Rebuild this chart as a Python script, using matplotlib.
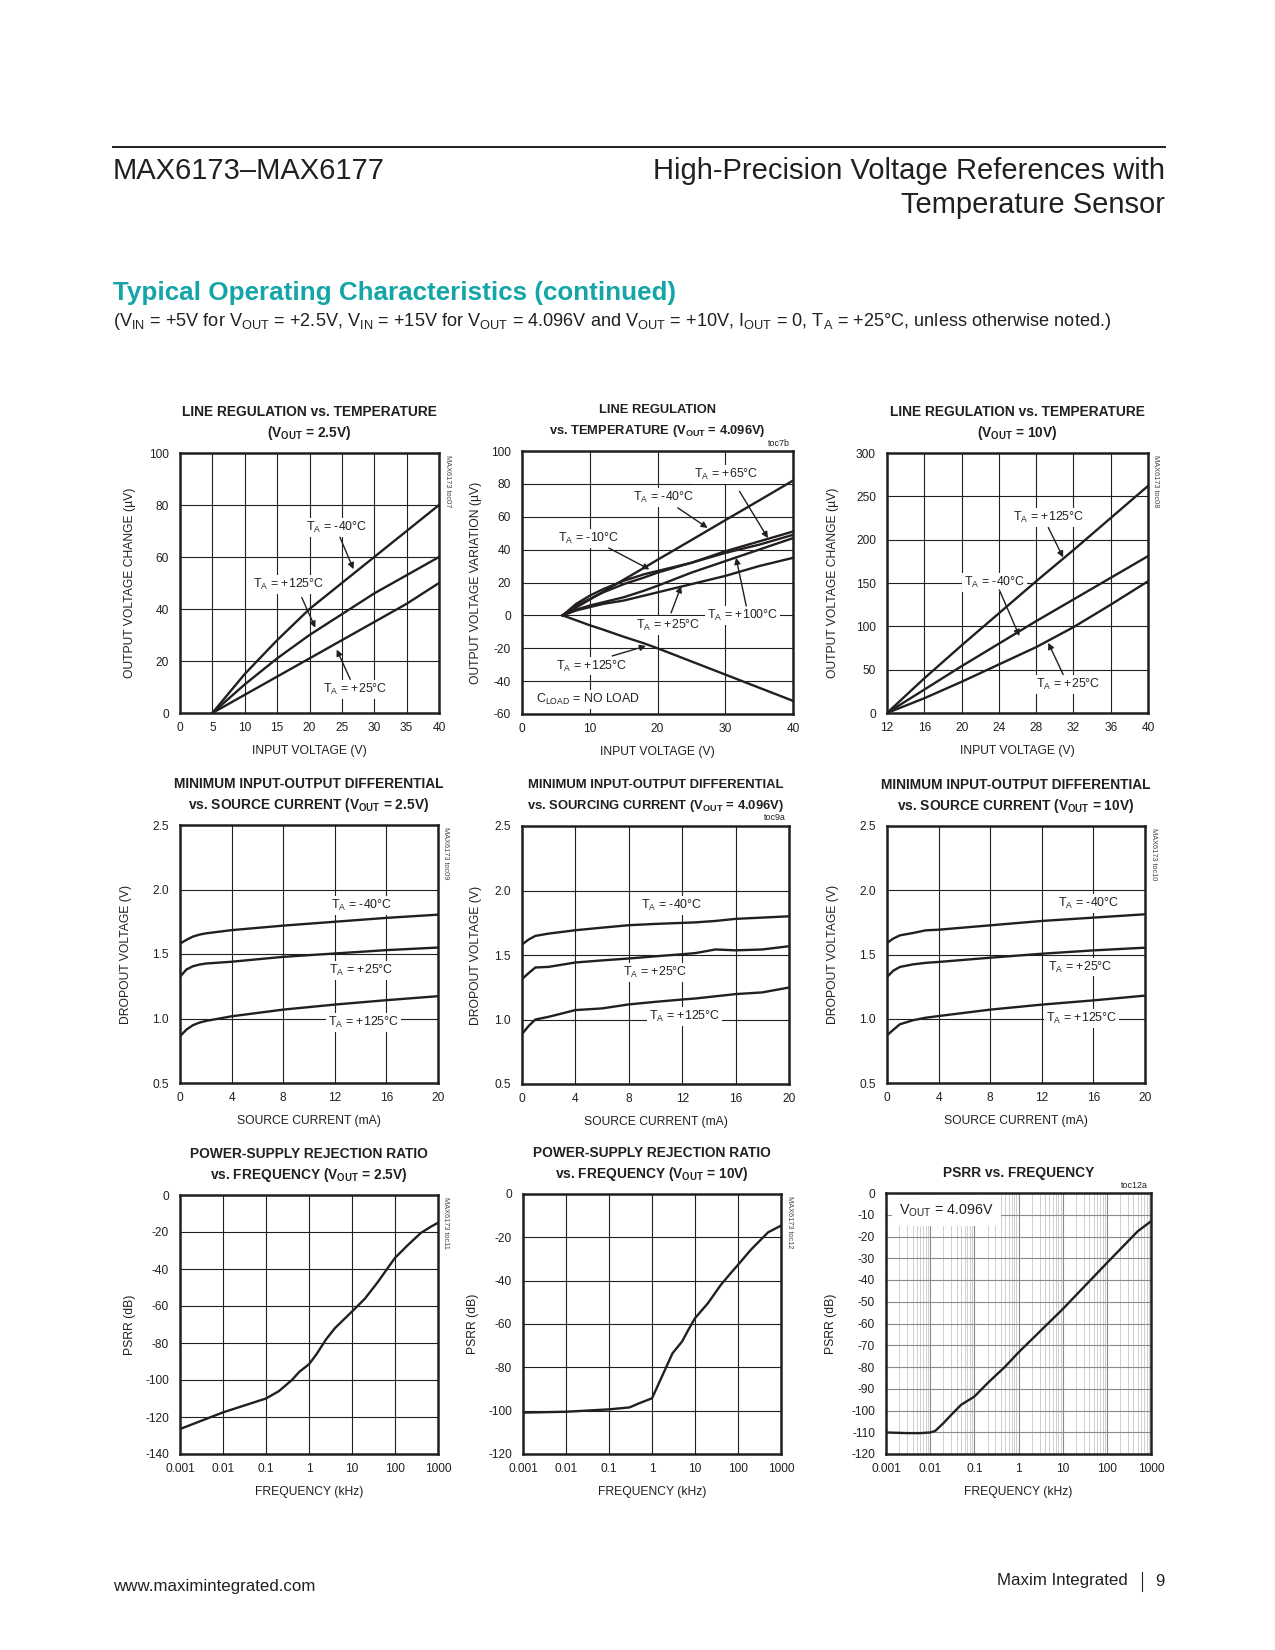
import matplotlib
matplotlib.use('Agg')
import matplotlib.pyplot as plt

W, H = 1275, 1650

# ---- data ----
# line regulation, VOUT = 2.5V
vin_25 = [5, 10, 15, 20, 25, 30, 35, 40]
lr25_m40 = [0, 15, 28, 40, 50, 60, 70, 80]
lr25_p125 = [0, 11, 21, 30, 38, 46, 53, 60]
lr25_p25 = [0, 7, 14, 21, 28, 35, 42, 50]

# line regulation, VOUT = 4.096V
vin_4 = [6, 8, 10, 12, 15, 18, 20, 25, 30, 35, 40]
lr4_m40 = [0, 4.8, 9.6, 14.5, 21.7, 28.9, 33.8, 45.8, 57.9, 69.9, 82]
lr4_m10 = [0, 7, 12, 16, 21, 25, 27, 32, 38, 43, 49]
lr4_p65 = [0, 6, 10, 14, 19, 23, 26, 32, 39, 45, 51]
lr4_p25 = [0, 3, 5, 7, 9, 12, 14, 19, 24, 30, 35]
lr4_p100 = [0, 3.5, 6, 8, 11, 15, 18, 26, 33, 40, 47]
lr4_p125 = [0, -3, -6, -8.7, -13, -17, -20, -28, -36, -44, -52]

# line regulation, VOUT = 10V
vin_10 = [12, 16, 20, 24, 28, 32, 36, 40]
lr10_p125 = [0, 40, 78, 115, 152, 188, 225, 262]
lr10_m40 = [0, 27, 54, 80, 106, 131, 156, 181]
lr10_p25 = [0, 17, 36, 56, 76, 99, 125, 152]

# dropout, VOUT = 2.5V
isrc_25 = [0, 0.5, 1, 1.5, 2, 4, 8, 12, 16, 20]
do25_m40 = [1.58, 1.61, 1.635, 1.65, 1.66, 1.685, 1.72, 1.75, 1.78, 1.805]
do25_p25 = [1.323, 1.38, 1.405, 1.418, 1.426, 1.44, 1.478, 1.504, 1.53, 1.55]
do25_p125 = [0.862, 0.914, 0.948, 0.968, 0.981, 1.017, 1.069, 1.108, 1.142, 1.173]

# dropout, VOUT = 4.096V
isrc_4 = [0, 0.5, 1, 2, 4, 6, 8, 10, 12, 13, 14.5, 16, 18, 20]
do4_m40 = [1.581, 1.62, 1.648, 1.666, 1.692, 1.712, 1.731, 1.741, 1.749, 1.753, 1.764, 1.78, 1.79, 1.80]
do4_p25 = [1.313, 1.36, 1.403, 1.408, 1.442, 1.458, 1.473, 1.49, 1.506, 1.515, 1.543, 1.536, 1.543, 1.568]
do4_p125 = [0.887, 0.95, 1.0, 1.021, 1.073, 1.086, 1.117, 1.137, 1.155, 1.163, 1.18, 1.197, 1.21, 1.248]

# dropout, VOUT = 10V
isrc_10 = [0, 0.5, 1, 2, 3, 4, 8, 12, 16, 20]
do10_m40 = [1.59, 1.625, 1.649, 1.667, 1.688, 1.693, 1.727, 1.761, 1.787, 1.813]
do10_p25 = [1.325, 1.375, 1.403, 1.423, 1.435, 1.442, 1.475, 1.506, 1.532, 1.553]
do10_p125 = [0.871, 0.915, 0.957, 0.988, 1.008, 1.021, 1.071, 1.11, 1.143, 1.18]

# PSRR, VOUT = 2.5V
f_25 = [0.001, 0.01, 0.1, 0.2, 0.4, 0.6, 1, 1.5, 2.5, 4, 6, 10, 20, 40, 70, 100, 200, 400, 700, 1000]
psrr_25 = [-126.5, -117.5, -110, -106, -100, -95.5, -91.5, -86, -78, -72, -68, -63, -56, -47, -39, -34, -27, -20.5, -17, -15]

# PSRR, VOUT = 10V
f_10 = [0.001, 0.01, 0.1, 0.3, 0.5, 1, 2, 3, 5, 7, 10, 20, 40, 70, 100, 200, 500, 1000]
psrr_10 = [-100.9, -100.5, -99.4, -98.5, -96.6, -94.3, -81.2, -73.5, -68.1, -62.7, -57.3, -50.4, -41.9, -36.2, -32.7, -25.7, -17.7, -14.6]

# PSRR, VOUT = 4.096V
f_4 = [0.001, 0.003, 0.006, 0.01, 0.013, 0.02, 0.03, 0.05, 0.1, 0.2, 0.5, 1, 10, 100, 500, 1000]
psrr_4 = [-110.1, -110.4, -110.4, -110.1, -109.4, -105.8, -102, -97.4, -93.6, -87.4, -79.8, -73.3, -53.4, -32.2, -17.6, -13]

freq_ticks = [0.001, 0.01, 0.1, 1, 10, 100, 1000]
freq_labels = ['0.001', '0.01', '0.1', '1', '10', '100', '1000']

# ---- fonts ----
FAM = 'Liberation Sans'
plt.rcParams['font.family'] = [FAM, 'DejaVu Sans']
plt.rcParams['mathtext.fontset'] = 'custom'
plt.rcParams['mathtext.rm'] = FAM
plt.rcParams['mathtext.it'] = FAM + ':italic'
plt.rcParams['mathtext.bf'] = FAM + ':bold'
plt.rcParams['axes.unicode_minus'] = False

INK = '#231f20'
TICK = 8.6
LAB = 8.7
TIT = 9.9
ANN = 8.9

fig = plt.figure(figsize=(W / 100, H / 100), dpi=100)


def px(x, y):
    return x / W, 1 - y / H


def add_ax(l, t, r, b):
    return fig.add_axes([l / W, 1 - b / H, (r - l) / W, (b - t) / H])


def style(ax, title, xlabel, ylabel, ylab_off=50, side=None, toc=None, tsize=TIT):
    for s in ax.spines.values():
        s.set_linewidth(1.8)
        s.set_color(INK)
    ax.tick_params(length=0, labelsize=TICK, colors=INK)
    ax.tick_params(axis='x', pad=6.5)
    ax.tick_params(axis='y', pad=8)
    ax.grid(True, color=INK, lw=0.8)
    ax.set_axisbelow(True)
    if isinstance(title, str):
        title = [title]
    offs = [21] if len(title) == 1 else [42, 21]
    for line, o in zip(title, offs):
        ax.annotate(line, (0.5, 1), xycoords='axes fraction', xytext=(0, o - 1),
                    textcoords='offset pixels', ha='center', va='center',
                    fontsize=tsize, fontweight='bold', color=INK)
    ax.annotate(xlabel, (0.5, 0), xycoords='axes fraction', xytext=(0, -38),
                textcoords='offset pixels', ha='center', va='center',
                fontsize=LAB, color=INK)
    ax.annotate(ylabel, (0, 0.5), xycoords='axes fraction', xytext=(-ylab_off, 0),
                textcoords='offset pixels', ha='center', va='center',
                rotation=90, fontsize=LAB, color=INK)
    if side:
        ax.annotate(side, (1, 1), xycoords='axes fraction', xytext=(8, -2),
                    textcoords='offset pixels', ha='center', va='top',
                    rotation=270, fontsize=5.3, color='#444444')
    if toc:
        ax.annotate(toc, (1, 1), xycoords='axes fraction', xytext=(-3, 8),
                    textcoords='offset pixels', ha='right', va='center',
                    fontsize=6.4, color=INK)


def lbl(ax, s, xy, arrow=None):
    ax.text(xy[0], xy[1], s, ha='center', va='center', fontsize=ANN, color=INK,
            zorder=3, bbox=dict(boxstyle='square,pad=0.15', fc='white', ec='none'))
    if arrow:
        ax.annotate('', xy=arrow[1], xytext=arrow[0], zorder=5,
                    arrowprops=dict(arrowstyle='-|>', color=INK, lw=1.0,
                                    mutation_scale=9, shrinkA=0, shrinkB=0))


def TA(t):
    return r'T$_{\rm A}$ = ' + t + '°C'


LW = 1.7

# ---- header ----
fig.add_artist(plt.Line2D([113 / W, 1165 / W], [1 - 146.5 / H] * 2, color=INK, lw=1.4))
fig.text(*px(113, 171), 'MAX6173–MAX6177', fontsize=21, color=INK, ha='left', va='center')
fig.text(*px(1165, 171), 'High-Precision Voltage References with', fontsize=21,
         color=INK, ha='right', va='center')
fig.text(*px(1165, 205), 'Temperature Sensor', fontsize=21, color=INK, ha='right', va='center')
fig.text(*px(113, 293), 'Typical Operating Characteristics (continued)', fontsize=18.7,
         fontweight='bold', color='#14a5a8', ha='left', va='center')
fig.text(*px(113, 321),
         r'(V$_{\rm IN}$ = +5V for V$_{\rm OUT}$ = +2.5V, V$_{\rm IN}$ = +15V for V$_{\rm OUT}$'
         r' = 4.096V and V$_{\rm OUT}$ = +10V, I$_{\rm OUT}$ = 0, T$_{\rm A}$ = +25°C, unless otherwise noted.)',
         fontsize=13.1, color=INK, ha='left', va='center')

# ---- footer ----
fig.text(*px(113, 1586), 'www.maximintegrated.com', fontsize=12.2, color=INK, ha='left', va='center')
fig.text(*px(1128, 1581), 'Maxim Integrated', fontsize=12.2, color=INK, ha='right', va='center')
fig.add_artist(plt.Line2D([1141.5 / W] * 2, [1 - 1572 / H, 1 - 1591 / H], color=INK, lw=0.8))
fig.text(*px(1165, 1581), '9', fontsize=12.2, color=INK, ha='right', va='center')

# ---- chart 1: line regulation 2.5V ----
ax = add_ax(180, 453, 439, 713)
ax.plot(vin_25, lr25_m40, color=INK, lw=LW, zorder=4)
ax.plot(vin_25, lr25_p125, color=INK, lw=LW, zorder=4)
ax.plot(vin_25, lr25_p25, color=INK, lw=LW, zorder=4)
ax.set_xlim(0, 40)
ax.set_ylim(0, 100)
ax.set_xticks(range(0, 41, 5))
ax.set_yticks(range(0, 101, 20))
style(ax, ['LINE REGULATION vs. TEMPERATURE', r'(V$_{\mathbf{OUT}}$ = 2.5V)'],
      'INPUT VOLTAGE (V)', 'OUTPUT VOLTAGE CHANGE (µV)', ylab_off=50, side='MAX6173 toc07')
lbl(ax, TA('-40'), (24.2, 71.4), ((24.7, 67.6), (26.8, 55.3)))
lbl(ax, TA('+125'), (16.7, 49.5), ((18.8, 44.4), (20.9, 32.8)))
lbl(ax, TA('+25'), (27, 9), ((26.3, 12.9), (24.2, 24.4)))

# ---- chart 2: line regulation 4.096V ----
ax = add_ax(522, 451, 793, 714)
for ys in (lr4_m40, lr4_m10, lr4_p65, lr4_p25, lr4_p100, lr4_p125):
    ax.plot(vin_4, ys, color=INK, lw=LW, zorder=4)
ax.set_xlim(0, 40)
ax.set_ylim(-60, 100)
ax.set_xticks(range(0, 41, 10))
ax.set_yticks(range(-60, 101, 20))
style(ax, ['LINE REGULATION', r'vs. TEMPERATURE (V$_{\mathbf{OUT}}$ = 4.096V)'],
      'INPUT VOLTAGE (V)', 'OUTPUT VOLTAGE VARIATION (µV)', ylab_off=46, toc='toc7b',
      tsize=9.3)
lbl(ax, TA('+65'), (30.1, 85.6), ((32.1, 75.5), (36.3, 47)))
lbl(ax, TA('-40'), (20.9, 71.5), ((23, 65.4), (27.4, 53.2)))
lbl(ax, TA('-10'), (9.9, 46.6), ((12.8, 41), (18.8, 28)))
lbl(ax, TA('+25'), (21.6, -6.1), ((22, 1.5), (23.5, 17.8)))
lbl(ax, TA('+100'), (32.5, 0), ((33.1, 5.7), (31.6, 35)))
lbl(ax, TA('+125'), (10.3, -30.8), ((13.3, -24.7), (18.3, -18.6)))
lbl(ax, r'C$_{\rm LOAD}$ = NO LOAD', (9.75, -51))

# ---- chart 3: line regulation 10V ----
ax = add_ax(887, 453, 1148, 713)
for ys in (lr10_p125, lr10_m40, lr10_p25):
    ax.plot(vin_10, ys, color=INK, lw=LW, zorder=4)
ax.set_xlim(12, 40)
ax.set_ylim(0, 300)
ax.set_xticks(range(12, 41, 4))
ax.set_yticks(range(0, 301, 50))
style(ax, ['LINE REGULATION vs. TEMPERATURE', r'(V$_{\mathbf{OUT}}$ = 10V)'],
      'INPUT VOLTAGE (V)', 'OUTPUT VOLTAGE CHANGE (µV)', ylab_off=54, side='MAX6173 toc08')
lbl(ax, TA('+125'), (29.3, 226), ((29.3, 214), (30.9, 179.5)))
lbl(ax, TA('-40'), (23.5, 150.6), ((24.05, 142), (26.2, 88.8)))
lbl(ax, TA('+25'), (31.4, 32.8), ((30.9, 44.4), (29.3, 81)))


def dropout(ax, xs, ys_list, labels, title, ylab_off, side=None, toc=None, tsize=TIT):
    for ys in ys_list:
        ax.plot(xs, ys, color=INK, lw=LW, zorder=4)
    ax.set_xlim(0, 20)
    ax.set_ylim(0.5, 2.5)
    ax.set_xticks(range(0, 21, 4))
    ax.set_yticks([0.5, 1.0, 1.5, 2.0, 2.5])
    ax.set_yticklabels(['0.5', '1.0', '1.5', '2.0', '2.5'])
    style(ax, title, 'SOURCE CURRENT (mA)', 'DROPOUT VOLTAGE (V)', ylab_off=ylab_off,
          side=side, toc=toc, tsize=tsize)
    for t, xy in labels:
        lbl(ax, TA(t), xy)


ax = add_ax(180, 825, 438, 1083)
dropout(ax, isrc_25, [do25_m40, do25_p25, do25_p125],
        [('-40', (14.06, 1.879)), ('+25', (14.06, 1.369)), ('+125', (14.2, 0.968))],
        ['MINIMUM INPUT-OUTPUT DIFFERENTIAL', r'vs. SOURCE CURRENT (V$_{\mathbf{OUT}}$ = 2.5V)'],
        54, side='MAX6173 toc09')

ax = add_ax(522, 826, 789, 1084)
dropout(ax, isrc_4, [do4_m40, do4_p25, do4_p125],
        [('-40', (11.2, 1.886)), ('+25', (9.95, 1.362)), ('+125', (12.2, 1.021))],
        ['MINIMUM INPUT-OUTPUT DIFFERENTIAL', r'vs. SOURCING CURRENT (V$_{\mathbf{OUT}}$ = 4.096V)'],
        46, toc='toc9a', tsize=9.4)

ax = add_ax(887, 826, 1145, 1083)
dropout(ax, isrc_10, [do10_m40, do10_p25, do10_p125],
        [('-40', (15.6, 1.896)), ('+25', (14.95, 1.403)), ('+125', (15.08, 1.0))],
        ['MINIMUM INPUT-OUTPUT DIFFERENTIAL', r'vs. SOURCE CURRENT (V$_{\mathbf{OUT}}$ = 10V)'],
        54, side='MAX6173 toc10')


def psrr_axes(ax, f, y, ymin, step):
    ax.plot(f, y, color=INK, lw=LW, zorder=4)
    ax.set_xscale('log')
    ax.set_xlim(0.001, 1000)
    ax.set_ylim(ymin, 0)
    ax.set_xticks(freq_ticks)
    ax.set_xticklabels(freq_labels)
    ax.set_xticks([], minor=True)
    yt = list(range(0, ymin - 1, -step))
    ax.set_yticks(yt)
    ax.set_yticklabels([str(v) for v in yt])


ax = add_ax(180, 1195, 438, 1454)
psrr_axes(ax, f_25, psrr_25, -140, 20)
style(ax, ['POWER-SUPPLY REJECTION RATIO', r'vs. FREQUENCY (V$_{\mathbf{OUT}}$ = 2.5V)'],
      'FREQUENCY (kHz)', 'PSRR (dB)', ylab_off=50, side='MAX6173 toc11')

ax = add_ax(523, 1194, 781, 1454)
psrr_axes(ax, f_10, psrr_10, -120, 20)
style(ax, ['POWER-SUPPLY REJECTION RATIO', r'vs. FREQUENCY (V$_{\mathbf{OUT}}$ = 10V)'],
      'FREQUENCY (kHz)', 'PSRR (dB)', ylab_off=50, side='MAX6173 toc12')

ax = add_ax(886, 1193, 1151, 1454)
psrr_axes(ax, f_4, psrr_4, -120, 10)
ax.set_xticks([m * 10.0 ** e for e in range(-3, 3) for m in range(2, 10)], minor=True)
ax.tick_params(which='minor', length=0)
ax.xaxis.set_minor_formatter(plt.NullFormatter())
style(ax, 'PSRR vs. FREQUENCY', 'FREQUENCY (kHz)', 'PSRR (dB)', ylab_off=55, toc='toc12a')
ax.grid(True, which='major', color='#8a8a8a', lw=0.8)
ax.grid(True, which='minor', axis='x', color='#c8c8c8', lw=0.6)
ax.text(0.002, -8.1, r'V$_{\rm OUT}$ = 4.096V', ha='left', va='center', fontsize=10.3,
        color=INK, zorder=3, bbox=dict(boxstyle='square,pad=0.5', fc='white', ec='none'))

fig.savefig('out.png', dpi=100, facecolor='white')
